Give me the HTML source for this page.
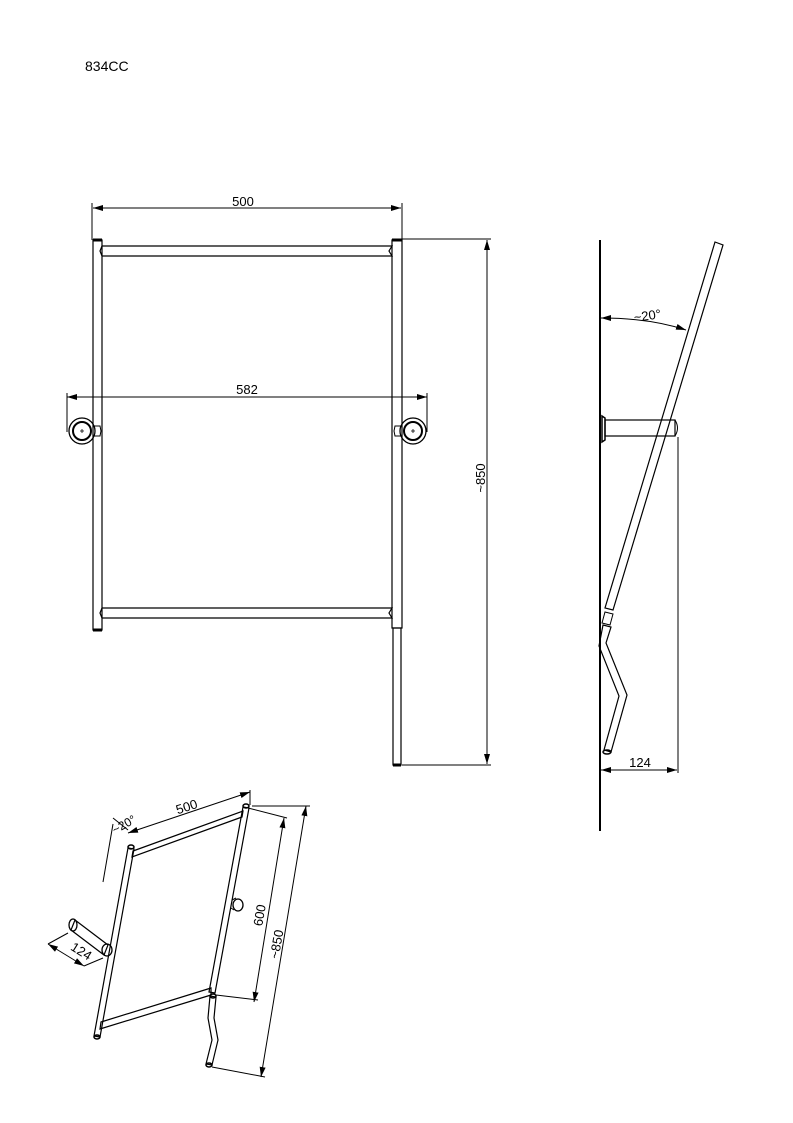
<!DOCTYPE html>
<html><head><meta charset="utf-8"><style>
html,body{margin:0;padding:0;background:#fff;}
svg{display:block;}
text{font-family:"Liberation Sans",sans-serif;fill:#000;}
</style></head><body>
<svg width="793" height="1123" viewBox="0 0 793 1123" xmlns="http://www.w3.org/2000/svg">
<defs>
<marker id="a" viewBox="0 0 10 6" refX="10" refY="3" markerWidth="10" markerHeight="6" orient="auto-start-reverse" markerUnits="userSpaceOnUse"><path d="M0,0 L10,3 L0,6 z" fill="#000"/></marker>
</defs>
<text x="85" y="71" font-size="14">834CC</text>

<g stroke="#000" fill="none" stroke-width="1">
<line x1="92" y1="203" x2="92" y2="240"/>
<line x1="402" y1="203" x2="402" y2="240"/>
<line x1="93" y1="208" x2="401" y2="208" marker-start="url(#a)" marker-end="url(#a)"/>
<rect x="93" y="240" width="9" height="390" stroke-width="1.2"/>
<line x1="93" y1="240" x2="102" y2="240" stroke-width="3"/>
<line x1="93" y1="630" x2="102" y2="630" stroke-width="3"/>
<rect x="392" y="240" width="10" height="388" stroke-width="1.2"/>
<line x1="392" y1="240" x2="402" y2="240" stroke-width="3"/>
<rect x="393" y="628" width="8" height="137" stroke-width="1.2"/>
<line x1="393" y1="765" x2="401" y2="765" stroke-width="3"/>
<path d="M102,246 L392,246 L389,251 L392,256 L102,256 L100,251 Z" stroke-width="1.2"/>
<path d="M102,608 L392,608 L389,613 L392,618 L102,618 L100,613 Z" stroke-width="1.2"/>
<line x1="67" y1="393" x2="67" y2="432"/>
<line x1="427" y1="393" x2="427" y2="432"/>
<line x1="67" y1="397" x2="427" y2="397" marker-start="url(#a)" marker-end="url(#a)"/>
<circle cx="82" cy="431" r="13" stroke-width="1.3"/>
<circle cx="82" cy="431" r="9" stroke-width="2"/>
<path d="M80,431 h4 M82,429 v4" stroke-width="0.8"/>
<path d="M93,426 L100,426 L101,431 L100,436 L93,436"/>
<circle cx="413" cy="431" r="13" stroke-width="1.3"/>
<circle cx="413" cy="431" r="9" stroke-width="2"/>
<path d="M411,431 h4 M413,429 v4" stroke-width="0.8"/>
<path d="M402,426 L395,426 L394,431 L395,436 L402,436"/>
<line x1="402" y1="239" x2="491" y2="239"/>
<line x1="402" y1="765" x2="491" y2="765"/>
<line x1="487" y1="240" x2="487" y2="764" marker-start="url(#a)" marker-end="url(#a)"/>

<line x1="600" y1="240" x2="600" y2="831" stroke-width="2"/>
<path d="M715,242 L723,245 L613,610 L605,608 Z" stroke-width="1.2"/>
<path d="M605,612 L613,614 L610,625 L602,623 Z"/>
<path d="M603,625 L611,627 L606,643 L627,695 L611,752 L604,750 L619,696 L599,646 Z" stroke-width="1.2"/>
<ellipse cx="607" cy="752" rx="4" ry="2" stroke-width="1.5"/>
<path d="M602,416 L605,418 L605,440 L602,442 Z" stroke-width="1.5"/>
<rect x="605" y="420" width="70" height="16" stroke-width="1.2"/>
<path d="M675,420 Q680,428 675,436"/>
<line x1="678" y1="437" x2="678" y2="773"/>
<line x1="601" y1="770" x2="677" y2="770" marker-start="url(#a)" marker-end="url(#a)"/>
<path d="M601,318 Q650,318 686,330" marker-start="url(#a)" marker-end="url(#a)"/>

<path d="M128,848 L134,849 L100,1037 L94,1036 Z" stroke-width="1.2"/>
<ellipse cx="131" cy="847" rx="3" ry="2" stroke-width="1.5"/>
<ellipse cx="97" cy="1037" rx="3" ry="2" stroke-width="1.5"/>
<path d="M243,807 L249,808 L215,993 L209,992 Z" stroke-width="1.2"/>
<ellipse cx="246" cy="806" rx="3" ry="2" stroke-width="1.5"/>
<path d="M133,851 L243,811 L242,817 L132,857 Z" stroke-width="1.2"/>
<path d="M101,1022 L211,988 L211,995 L100,1029 Z" stroke-width="1.2"/>
<path d="M210,996 L216,997 L214,1018 L218,1040 L212,1065 L206,1064 L212,1040 L208,1018 Z" stroke-width="1.2"/>
<ellipse cx="213" cy="996" rx="3" ry="2" stroke-width="1.5"/>
<ellipse cx="209" cy="1065" rx="3" ry="2" stroke-width="1.5"/>
<path d="M75,920 L108,945 L104,955 L71,930 Z" stroke-width="1.2"/>
<ellipse cx="73" cy="925" rx="4" ry="6" stroke-width="1.3"/>
<ellipse cx="107" cy="950" rx="5" ry="6" stroke-width="1.3"/>
<ellipse cx="238" cy="905" rx="5" ry="6" stroke-width="1.3"/>
<path d="M232,900 L236,898 M231,908 L234,910"/>
<line x1="113" y1="824" x2="103" y2="882"/>
<line x1="113" y1="818" x2="128" y2="830"/>
<line x1="128" y1="833" x2="250" y2="792" marker-start="url(#a)" marker-end="url(#a)"/>
<line x1="250" y1="790" x2="250" y2="805"/>
<line x1="248" y1="808" x2="287" y2="818"/>
<line x1="252" y1="806" x2="310" y2="806"/>
<line x1="284" y1="818" x2="254" y2="1002" marker-start="url(#a)" marker-end="url(#a)"/>
<line x1="216" y1="995" x2="258" y2="1000"/>
<line x1="306" y1="806" x2="261" y2="1077" marker-start="url(#a)" marker-end="url(#a)"/>
<line x1="212" y1="1067" x2="265" y2="1077"/>
<line x1="48" y1="944" x2="84" y2="966" marker-start="url(#a)" marker-end="url(#a)"/>
<line x1="84" y1="966" x2="103" y2="958"/>
<line x1="48" y1="944" x2="68" y2="933"/>
</g>
<text x="243" y="206" font-size="13" text-anchor="middle">500</text>
<text x="247" y="394" font-size="13" text-anchor="middle">582</text>
<text transform="translate(485,478) rotate(-90)" font-size="13" text-anchor="middle">~850</text>
<text x="640" y="767" font-size="13" text-anchor="middle">124</text>
<text transform="translate(648,320) rotate(-8)" font-size="13" text-anchor="middle">~20°</text>
<text transform="translate(188,811) rotate(-18)" font-size="13" text-anchor="middle">500</text>
<text transform="translate(126,828) rotate(-30)" font-size="12" text-anchor="middle">~20°</text>
<text transform="translate(264,916) rotate(-80)" font-size="13" text-anchor="middle">600</text>
<text transform="translate(281,945) rotate(-80)" font-size="13" text-anchor="middle">~850</text>
<text transform="translate(79,955) rotate(32)" font-size="13" text-anchor="middle">124</text>
</svg>
</body></html>
